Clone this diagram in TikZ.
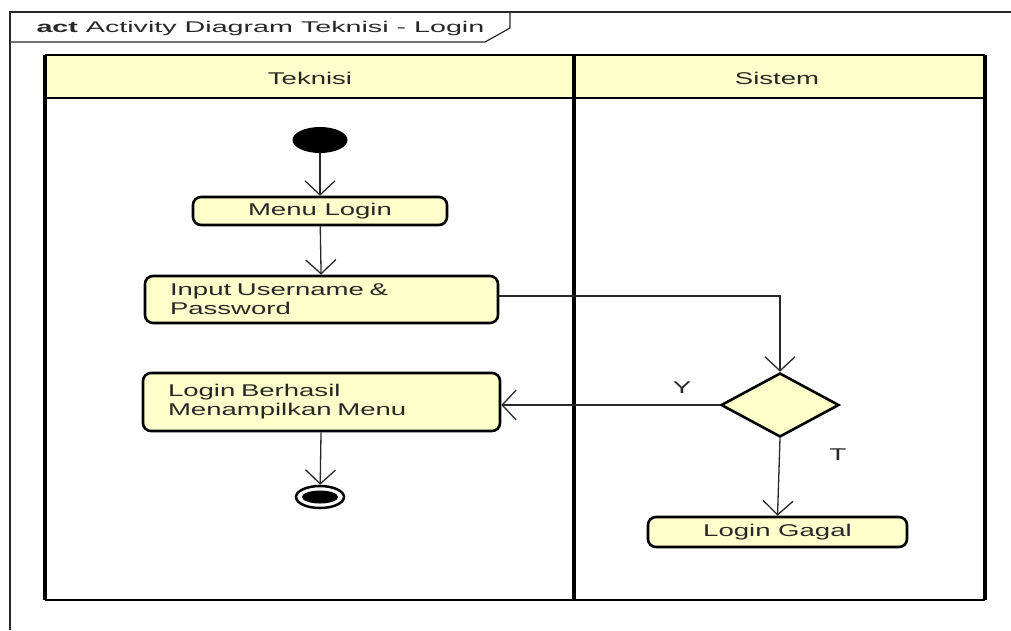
\documentclass[tikz,border=0pt]{standalone}
\usepackage{fontspec}
\setmainfont{Liberation Sans}
\newfontfamily\umlfont[FakeStretch=1.62]{Liberation Sans}
\newfontfamily\titlefont[FakeStretch=1.85]{Liberation Sans}
\usetikzlibrary{arrows.meta,shapes.geometric}
\definecolor{umlfill}{RGB}{255,255,204}
\definecolor{umltext}{RGB}{40,40,40}
\begin{document}
\begin{tikzpicture}[x=1pt,y=-1pt,
  every node/.style={font=\umlfont\fontsize{17}{19}\selectfont, text=umltext},
  action/.style={draw=black, line width=2.6pt, fill=umlfill, rounded corners=8pt, inner sep=0pt},
  flow/.style={draw=umltext, line width=1.3pt, -{Straight Barb[length=14pt,width=30pt,line width=1.3pt]}},
  frameline/.style={draw=umltext, line width=1.2pt},
  lanev/.style={draw=black, line width=4pt},
  laneh/.style={draw=black, line width=2.5pt}]
\useasboundingbox (0,0) rectangle (1011,630);
% outer frame
\draw[frameline] (10,630) -- (10,12) -- (1011,12);
\draw[frameline] (10,42) -- (485,42) -- (510,28) -- (510,12);
\node[anchor=west, font=\titlefont\fontsize{15.5}{17}\selectfont] (title) at (33,28) {\textbf{act} Activity Diagram Teknisi - Login};
% swimlanes
\fill[umlfill] (45,55) rectangle (985,98);
\draw[laneh] (45,55) -- (985,55);
\draw[laneh] (45,98) -- (985,98);
\draw[laneh] (45,600) -- (985,600);
\draw[lanev] (45,55) -- (45,600);
\draw[lanev] (574,55) -- (574,600);
\draw[lanev] (985,55) -- (985,600);
\node (lane1) at (310,78) {Teknisi};
\node (lane2) at (777,78) {Sistem};
% nodes
\node[ellipse, fill=black, minimum width=55pt, minimum height=26pt, inner sep=0pt] (start) at (320,140) {};
\node[action, minimum width=254pt, minimum height=28pt] (menu) at (320,211) {Menu Login};
\node[action, minimum width=353pt, minimum height=47pt, text width=303pt, align=left] (input) at (321.5,299.5) {Input Username \&\\Password};
\node[action, minimum width=357pt, minimum height=58pt, text width=307pt, align=left] (berhasil) at (321.5,402) {Login Berhasil\\Menampilkan Menu};
\node[diamond, draw=black, line width=2.6pt, fill=umlfill, minimum width=118pt, minimum height=64pt, inner sep=0pt] (dec) at (780,405) {};
\node[action, minimum width=259pt, minimum height=30pt] (gagal) at (777.5,532) {Login Gagal};
\node[ellipse, draw=black, line width=2.5pt, fill=white, minimum width=48pt, minimum height=22pt, inner sep=0pt] (end) at (320,497) {};
\node[ellipse, fill=black, minimum width=36pt, minimum height=13pt, inner sep=0pt] (endcore) at (end) {};
\node (ylabel) at (682,388) {Y};
\node (tlabel) at (838,455) {T};
% connectors
\draw[flow] (start) -- (menu);
\draw[flow] (menu) -- (input);
\draw[flow] ([yshift=3.5pt]input.east) -| (dec.north);
\draw[flow] (dec.west) -- (berhasil.east |- dec.west);
\draw[flow] (dec.south) -- (gagal.north);
\draw[flow] (berhasil) -- (end);
\end{tikzpicture}
\end{document}
